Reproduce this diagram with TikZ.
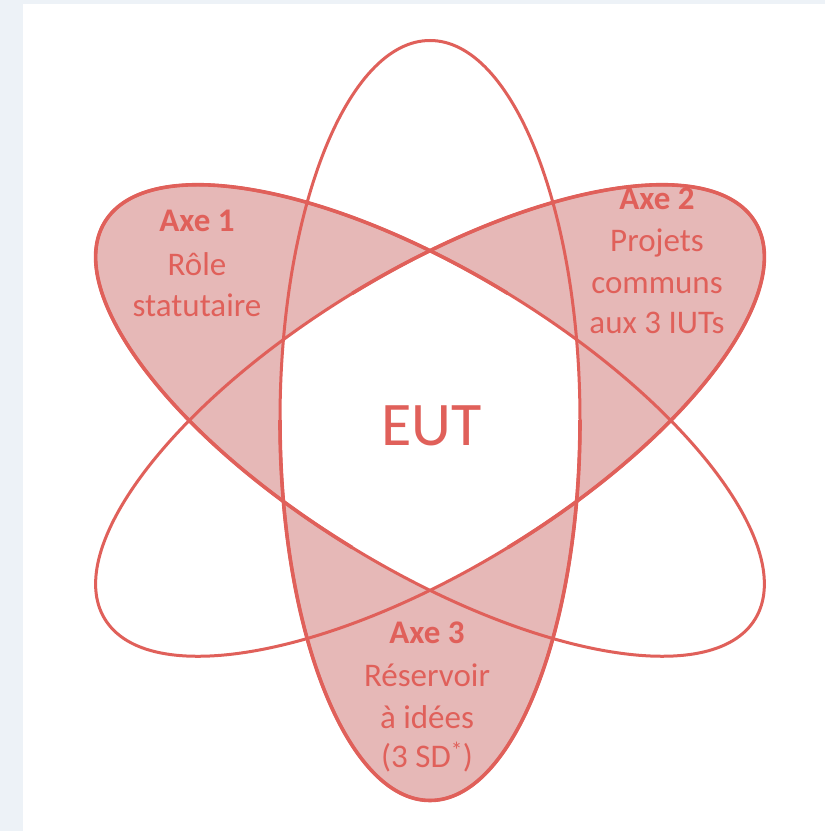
\documentclass[tikz,border=0pt]{standalone}
\usepackage{fontspec}
\setmainfont{Carlito}
\definecolor{bgc}{HTML}{EDF2F7}
\definecolor{lc}{HTML}{E0605A}
\definecolor{fc}{HTML}{E6B8B7}
\tikzset{
  outl/.style={draw=lc, line width=3.0},
  thick outl/.style={draw=lc, line width=3.6},
  lbl/.style={text=lc, inner sep=0pt, anchor=base, font=\fontsize{33}{40}\selectfont},
  lblb/.style={lbl, font=\fontsize{33}{40}\selectfont\bfseries},
}
\begin{document}
\begin{tikzpicture}[x=1pt,y=1pt]
\useasboundingbox (0,0) rectangle (825,831);
\fill[bgc] (0,0) rectangle (825,831);
\fill[white] (23,0) rectangle (825,827);
\coordinate (C) at (430,410.5);
% shaded halves
\begin{scope}[shift={(C)},rotate=-31.4]
  \clip (-600,-600) rectangle (0,600);
  \fill[fc] (0,0) ellipse [x radius=381, y radius=149];
\end{scope}
\begin{scope}[shift={(C)},rotate=31.4]
  \clip (0,-600) rectangle (600,600);
  \fill[fc] (0,0) ellipse [x radius=381, y radius=149];
\end{scope}
\begin{scope}[shift={(C)}]
  \clip (-600,-600) rectangle (600,0);
  \fill[fc] (0,0) ellipse [x radius=150, y radius=380];
\end{scope}
% white centre
\begin{scope}
  \clip[rotate around={-31.4:(C)}] (C) ellipse [x radius=381, y radius=149];
  \clip[rotate around={31.4:(C)}] (C) ellipse [x radius=381, y radius=149];
  \fill[white] (C) ellipse [x radius=150, y radius=380];
\end{scope}
% outlines
\draw[outl, rotate around={-31.4:(C)}] (C) ellipse [x radius=381, y radius=149];
\draw[outl, rotate around={31.4:(C)}] (C) ellipse [x radius=381, y radius=149];
\draw[outl] (C) ellipse [x radius=150, y radius=380];
% thicker outline of shaded halves
\begin{scope}[shift={(C)},rotate=-31.4]
  \clip (-600,-600) rectangle (0,600);
  \draw[thick outl] (0,0) ellipse [x radius=381, y radius=149];
\end{scope}
\begin{scope}[shift={(C)},rotate=31.4]
  \clip (0,-600) rectangle (600,600);
  \draw[thick outl] (0,0) ellipse [x radius=381, y radius=149];
\end{scope}
\begin{scope}[shift={(C)}]
  \clip (-600,-600) rectangle (600,0);
  \draw[thick outl] (0,0) ellipse [x radius=150, y radius=380];
\end{scope}
% labels
\node[text=lc, inner sep=0pt, anchor=base, font=\fontsize{62}{70}\selectfont] (eut) at (431.5,385) {EUT};
\node[lblb] (a1) at (197,599.3) {Axe 1};
\node[lbl] (a1l1) at (197,555) {Rôle};
\node[lbl] (a1l2) at (197,514) {statutaire};
\node[lblb] (a2) at (657,621) {Axe 2};
\node[lbl] (a2l1) at (657,579.3) {Projets};
\node[lbl] (a2l2) at (657,537.7) {communs};
\node[lbl] (a2l3) at (657,497) {aux 3 IUTs};
\node[lblb] (a3) at (427,187.7) {Axe 3};
\node[lbl] (a3l1) at (427,144.3) {Réservoir};
\node[lbl] (a3l2) at (427,102.7) {à idées};
\node[lbl] (a3l3) at (427,63) {(3 SD\textsuperscript{*})};
\end{tikzpicture}
\end{document}
